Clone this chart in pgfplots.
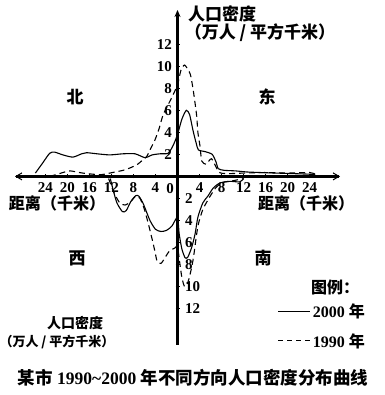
\documentclass[border=0pt]{standalone}
\usepackage{fontspec}
\setmainfont{Liberation Serif}
\newfontfamily\cjk{Noto Sans CJK SC}
\usepackage{pgfplots}
\pgfplotsset{compat=1.18}
\usetikzlibrary{arrows.meta}

\begin{document}
\begin{tikzpicture}
\begin{axis}[
  name=ax,
  scale only axis,
  width=325pt, height=335pt,
  xmin=-29.5, xmax=29.5, ymin=-15.3, ymax=15.1,
  axis lines=middle,
  axis line style={line width=2.5pt},
  x axis line style={{Straight Barb[length=6pt,width=7pt,line width=1pt]}-{Straight Barb[length=6pt,width=7pt,line width=1pt]}},
  y axis line style={-{Stealth[length=7pt,width=6pt]}},
  xtick={-24,-20,-16,-12,-8,-4,4,8,12,16,20,24},
  xticklabels={24,20,16,12,8,4,4,8,12,16,20,24},
  ytick={2,4,6,8,10,12},
  extra y ticks={-2,-4,-6,-8,-10,-12},
  extra y tick labels={2,4,6,8,10,12},
  extra y tick style={yticklabel style={anchor=west, xshift=6pt}},
  major tick length=4pt,
  tick style={black, line width=1pt},
  tick label style={font=\bfseries\fontsize{15}{15}\selectfont},
  /pgf/number format/assume math mode=true,
  xticklabel style={yshift=-1pt},
  clip=false,
  legend style={at={(axis cs:17.6,-11.2)}, anchor=north west, draw=none, fill=none,
    font=\bfseries\fontsize{16}{16}\selectfont, row sep=10pt,
    nodes={inner sep=2pt}},
  legend cell align=left,
  legend image code/.code={\draw[#1] (0pt,0pt) -- (32pt,0pt);},
]
% 2000, north (x<0) and east (x>0)
\addplot[black, line width=1.1pt, smooth, tension=0.4, forget plot] coordinates {
(-25.8,0.3) (-24.5,1.2) (-23.2,2.1) (-22.3,2.2) (-20.8,1.95) (-19,1.75) (-17.4,2.05)
(-16.5,2.15) (-14.6,2.05) (-12.3,1.95) (-9.9,2.05) (-7.7,2.05) (-5.9,1.7) (-4.6,1.95)
(-3.2,2.05) (-1.7,2.1) (-0.8,2.8) (0,3.8) (0.8,5.2) (1.6,6.0) (2.2,5.6) (2.8,4.2)
(3.4,3.0) (3.8,2.4) (5.0,2.25) (6.3,2.0) (7.0,1.3) (7.4,0.7) (8.5,0.55) (10.5,0.5)
(12.6,0.4) (15,0.35) (18,0.3) (21,0.25) (24,0.2) (25,0.15)};
% 1990, north and east
\addplot[black, line width=1.1pt, dash pattern=on 6pt off 4pt, smooth, tension=0.4, forget plot] coordinates {
(-25,0.0) (-22.9,0.05) (-20.8,0.35) (-19.5,0.5) (-17.2,0.3) (-14,0.15) (-12.3,0.3)
(-9.5,0.6) (-7.4,1.05) (-6.3,1.5) (-5.6,1.8) (-5,2.4) (-4.1,3.3) (-3.3,4.4) (-2.6,5.6)
(-1.2,7) (0,8.3) (0.6,9.6) (1.3,10.1) (2.3,9.3) (2.8,8.0) (3.2,6.6) (3.5,5.4) (3.7,4)
(4.1,2.7) (4.4,1.4) (5.2,1.1) (6.2,1.6) (7.5,0.4) (9,0.25) (12,0.3) (16,0.35) (20,0.3)
(24,0.35) (25,0.2)};
% 2000, west (x<0) and south (x>0)
\addplot[black, line width=1.1pt, smooth, tension=0.4, forget plot] coordinates {
(-12.2,-0.2) (-11.7,-1.2) (-11,-2.4) (-10,-3.2) (-9.3,-3.1) (-8.5,-2.3) (-7.6,-1.75)
(-7,-1.8) (-6.2,-2.5) (-5,-4) (-4,-4.8) (-3,-5) (-2,-4.9) (-1,-4.5) (0,-3.7) (0.3,-5.2)
(0.8,-6.6) (1.4,-7.4) (1.9,-7.3) (2.6,-6.4) (3.2,-5.2) (3.7,-3.7) (4.6,-2.4) (5.5,-1.8)
(6.5,-1.05) (7.7,-0.6) (9.5,-0.45) (11.3,-0.5) (12,-0.2)};
% 1990, west and south
\addplot[black, line width=1.1pt, dash pattern=on 6pt off 4pt, smooth, tension=0.4, forget plot] coordinates {
(-12.5,-0.2) (-11.6,-1.4) (-10.5,-2.4) (-9.5,-2.6) (-8.5,-2.3) (-7.6,-1.8) (-6.8,-2.0)
(-6,-3) (-5.4,-4.1) (-4.7,-5.5) (-4.1,-6.8) (-3.7,-7.7) (-3,-7.9) (-2.3,-7.4) (-1.5,-6.8)
(-0.5,-6.5) (0,-6.4) (0.4,-7.8) (0.8,-9.2) (1.3,-10) (1.9,-9.6) (2.6,-8.2) (3.0,-7)
(3.4,-5.5) (3.8,-4.3) (4.6,-3.0) (5.8,-1.9) (7.0,-1.0) (8.2,-0.55) (10,-0.4) (12,-0.2)};
\addlegendimage{black, line width=1.3pt}
\addlegendentry{2000 {\cjk 年}}
\addlegendimage{black, line width=1.1pt, dash pattern=on 5pt off 4pt}
\addlegendentry{1990 {\cjk 年}}
\end{axis}
\begin{scope}[shift={(ax.south west)}, xshift=-15pt, yshift=345pt, x=1pt, y=-1pt]
\pgfresetboundingbox
\useasboundingbox (0,0) rectangle (384,395);
\node[font=\bfseries\fontsize{15}{15}\selectfont] at (170,189) {0};
\node[font=\cjk\bfseries\fontsize{17}{17}\selectfont] at (222,14) {人口密度};
\node[font=\cjk\bfseries\fontsize{17}{17}\selectfont] at (260,33) {（万人 / 平方千米）};
\node[font=\cjk\bfseries\fontsize{17}{17}\selectfont] at (75,97) {北};
\node[font=\cjk\bfseries\fontsize{17}{17}\selectfont] at (267,97) {东};
\node[font=\cjk\bfseries\fontsize{17}{17}\selectfont] at (77,258) {西};
\node[font=\cjk\bfseries\fontsize{17}{17}\selectfont] at (263,258) {南};
\node[font=\cjk\bfseries\fontsize{16}{16}\selectfont] at (57,203) {距离（千米）};
\node[font=\cjk\bfseries\fontsize{16}{16}\selectfont] at (306,203) {距离（千米）};
\node[font=\cjk\bfseries\fontsize{16}{16}\selectfont] at (335,287) {图例：};
\node[font=\cjk\bfseries\fontsize{14}{14}\selectfont] at (75,323) {人口密度};
\node[font=\cjk\bfseries\fontsize{13}{13}\selectfont] at (57,342) {（万人 / 平方千米）};
\node[font=\bfseries\fontsize{17.5}{18}\selectfont] at (193,378) {{\cjk 某市} 1990\char`~2000 {\cjk 年不同方向人口密度分布曲线}};
\end{scope}
\end{tikzpicture}
\end{document}
